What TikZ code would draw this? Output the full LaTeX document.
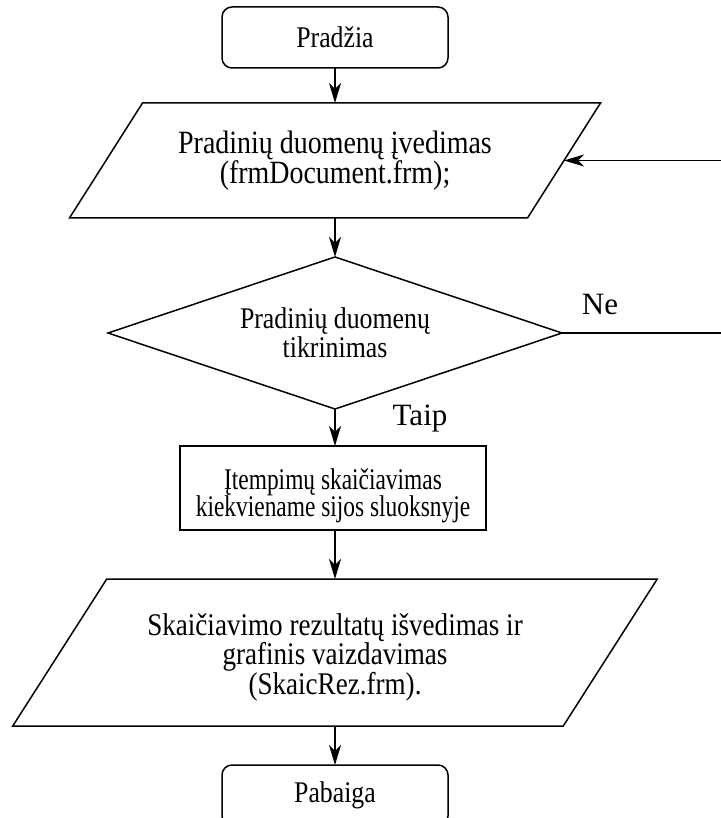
\documentclass[tikz,border=0pt]{standalone}
\usepackage{fontspec}
\setmainfont{Liberation Serif}[FakeStretch=0.86]
\newfontfamily\lblfont{Liberation Serif}
\newfontfamily\narrowfont{Liberation Serif}[FakeStretch=0.78]
\usetikzlibrary{arrows.meta,shapes.geometric}
\begin{document}
\begin{tikzpicture}[x=1pt,y=-1pt,
  line width=1.5pt,
  arr/.style={-{Stealth[length=20pt,width=12pt,inset=6pt]}},
  txt/.style={align=center, inner sep=0pt, outer sep=0pt},
  lbl/.style={font=\lblfont\fontsize{31}{34}\selectfont, inner sep=0pt},
  term/.style={txt, font=\fontsize{30}{30}\selectfont, draw, rounded corners=10pt, minimum width=226pt, minimum height=61pt},
  proc/.style={txt, draw, minimum width=306pt, minimum height=84pt},
  dec/.style={txt, font=\fontsize{30}{29}\selectfont, draw, diamond, shape aspect=2.987, minimum width=454pt, minimum height=152pt},
  iobox/.style={txt}
]
\useasboundingbox (0,0) rectangle (720,818);

\node[term] (s) at (335,37.5) {Pradžia};

\node[iobox, font=\fontsize{32.5}{29}\selectfont, minimum width=458pt, minimum height=115pt] (p1) at (335,160.5)
  {Pradinių duomenų įvedimas\\(frmDocument.frm);};
\draw ([xshift=36.5pt]p1.north west) -- ([xshift=36.5pt]p1.north east)
  -- ([xshift=-36.5pt]p1.south east) -- ([xshift=-36.5pt]p1.south west) -- cycle;

\node[dec] (d) at (335,333) {Pradinių duomenų\\tikrinimas};

\node[proc] (r) at (333,488) {};
\node[txt, font=\narrowfont\fontsize{30}{27.5}\selectfont] (rt) at (333,496)
  {Įtempimų skaičiavimas\\kiekviename sijos sluoksnyje};

\node[iobox, minimum width=550.5pt, minimum height=147pt] (p2) at (335,652.5) {};
\node[txt, font=\fontsize{31.5}{29.5}\selectfont] (p2t) at (335,657)
  {Skaičiavimo rezultatų išvedimas ir\\grafinis vaizdavimas\\(SkaicRez.frm).};
\draw ([xshift=47pt]p2.north west) -- ([xshift=47pt]p2.north east)
  -- ([xshift=-47pt]p2.south east) -- ([xshift=-47pt]p2.south west) -- cycle;

\node[term] (e) at (335,795.5) {Pabaiga};

\coordinate (r1) at (722,333);

\draw[arr] (s.south) -- (s.south |- p1.north);
\draw[arr] (p1.south) -- (d.north);
\draw[arr] (d.south) -- (d.south |- r.north);
\draw[arr] (r.south -| d.south) -- (d.south |- p2.north);
\draw[arr] (p2.south) -- (e.north);
\draw[arr] (d.east) -- (r1) -- (r1 |- p1.east) -- (p1.east);

\node[lbl] (ne) at (600,305) {Ne};
\node[lbl] (taip) at (420,419) {Taip};
\end{tikzpicture}
\end{document}
